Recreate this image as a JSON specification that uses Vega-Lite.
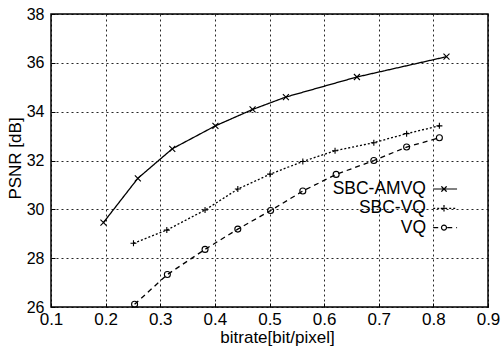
{
  "$schema": "https://vega.github.io/schema/vega-lite/v6.json",
  "autosize": "none",
  "width": 437,
  "height": 293,
  "padding": {"left": 51, "top": 14, "right": 14, "bottom": 40},
  "background": "white",
  "config": {
    "font": "Liberation Sans",
    "view": {"stroke": "#000", "strokeWidth": 1.5},
    "axis": {
      "domain": false,
      "ticks": true,
      "tickSize": -4,
      "tickColor": "#000",
      "tickWidth": 1,
      "grid": true,
      "gridColor": "#000",
      "gridDash": [2, 3],
      "gridOpacity": 0.85,
      "gridWidth": 1,
      "labelColor": "#000",
      "labelFont": "Liberation Sans",
      "titleColor": "#000",
      "titleFont": "Liberation Sans",
      "titleFontWeight": "normal"
    }
  },
  "data": {
    "values": [
      {"series": "SBC-AMVQ", "x": 0.196, "y": 29.46},
      {"series": "SBC-AMVQ", "x": 0.259, "y": 31.27},
      {"series": "SBC-AMVQ", "x": 0.322, "y": 32.48},
      {"series": "SBC-AMVQ", "x": 0.401, "y": 33.42},
      {"series": "SBC-AMVQ", "x": 0.469, "y": 34.09},
      {"series": "SBC-AMVQ", "x": 0.530, "y": 34.60},
      {"series": "SBC-AMVQ", "x": 0.660, "y": 35.42},
      {"series": "SBC-AMVQ", "x": 0.824, "y": 36.25},
      {"series": "SBC-VQ", "x": 0.251, "y": 28.61},
      {"series": "SBC-VQ", "x": 0.312, "y": 29.15},
      {"series": "SBC-VQ", "x": 0.382, "y": 29.97},
      {"series": "SBC-VQ", "x": 0.442, "y": 30.83},
      {"series": "SBC-VQ", "x": 0.501, "y": 31.44},
      {"series": "SBC-VQ", "x": 0.561, "y": 31.96},
      {"series": "SBC-VQ", "x": 0.620, "y": 32.40},
      {"series": "SBC-VQ", "x": 0.691, "y": 32.73},
      {"series": "SBC-VQ", "x": 0.751, "y": 33.10},
      {"series": "SBC-VQ", "x": 0.811, "y": 33.42},
      {"series": "VQ", "x": 0.253, "y": 26.11},
      {"series": "VQ", "x": 0.313, "y": 27.33},
      {"series": "VQ", "x": 0.382, "y": 28.36},
      {"series": "VQ", "x": 0.442, "y": 29.19},
      {"series": "VQ", "x": 0.502, "y": 29.95},
      {"series": "VQ", "x": 0.561, "y": 30.75},
      {"series": "VQ", "x": 0.622, "y": 31.43},
      {"series": "VQ", "x": 0.691, "y": 32.00},
      {"series": "VQ", "x": 0.751, "y": 32.55},
      {"series": "VQ", "x": 0.811, "y": 32.93}
    ]
  },
  "encoding": {
    "x": {
      "field": "x",
      "type": "quantitative",
      "scale": {"domain": [0.1, 0.9], "nice": false, "zero": false},
      "axis": {
        "values": [0.1, 0.2, 0.3, 0.4, 0.5, 0.6, 0.7, 0.8, 0.9],
        "format": ".1f",
        "labelFontSize": 17,
        "labelPadding": 8,
        "labelFlush": false,
        "labelOverlap": false,
        "title": "bitrate[bit/pixel]",
        "titleFontSize": 17,
        "titleX": 226,
        "titleY": 35,
        "titleBaseline": "alphabetic"
      }
    },
    "y": {
      "field": "y",
      "type": "quantitative",
      "scale": {"domain": [26, 38], "nice": false, "zero": false},
      "axis": {
        "values": [26, 28, 30, 32, 34, 36, 38],
        "labelFontSize": 16,
        "labelPadding": 11,
        "labelOverlap": false,
        "title": "PSNR [dB]",
        "titleFontSize": 17,
        "titleX": -36,
        "titleY": 144,
        "titleAlign": "center",
        "titleBaseline": "middle",
        "titleAngle": -90
      }
    }
  },
  "layer": [
    {
      "mark": {"type": "line", "color": "#000", "strokeWidth": 1.3},
      "encoding": {
        "strokeDash": {
          "field": "series",
          "type": "nominal",
          "scale": {"domain": ["SBC-AMVQ", "SBC-VQ", "VQ"], "range": [[1, 0], [2, 2], [5, 4]]},
          "legend": {
            "title": null,
            "orient": "none",
            "legendX": 383,
            "legendY": 165,
            "padding": 0,
            "rowPadding": 0.3,
            "labelAlign": "right",
            "labelOffset": -28,
            "labelFontSize": 17.5,
            "labelFont": "Liberation Sans",
            "labelColor": "#000",
            "symbolSize": 324,
            "symbolStrokeWidth": 1.2,
            "symbolStrokeColor": "#000",
            "encode": {
              "symbols": {
                "update": {
                  "shape": {"signal": "datum.value === 'VQ' ? 'M-1.2,0L-0.36,0M0.36,0L1.45,0M0.28,0A0.28,0.28 0 0,1 0,0.28M0,0.28A0.28,0.28 0 0,1 -0.28,0M-0.28,0A0.28,0.28 0 0,1 0,-0.28M0,-0.28A0.28,0.28 0 0,1 0.28,0' : datum.value === 'SBC-VQ' ? 'M-1.2,0L1.45,0M0,-0.36L0,-0.12M0,-0.12L0,0.12M0,0.12L0,0.36M-0.36,0L-0.12,0M-0.12,0L0.12,0M0.12,0L0.36,0' : 'M-1.2,0L1.45,0M-0.3,-0.3L0.3,0.3M-0.3,0.3L0.3,-0.3'"}
                }
              }
            }
          }
        }
      }
    },
    {
      "mark": {"type": "point", "filled": false, "stroke": "#000", "strokeWidth": 1.1, "opacity": 1},
      "encoding": {
        "shape": {
          "field": "series",
          "type": "nominal",
          "scale": {"domain": ["VQ", "SBC-VQ", "SBC-AMVQ"], "range": ["circle", "M-1,0L1,0M0,-1L0,1", "M-1,-1L1,1M-1,1L1,-1"]},
          "legend": null
        },
        "size": {"value": 36}
      }
    }
  ]
}
